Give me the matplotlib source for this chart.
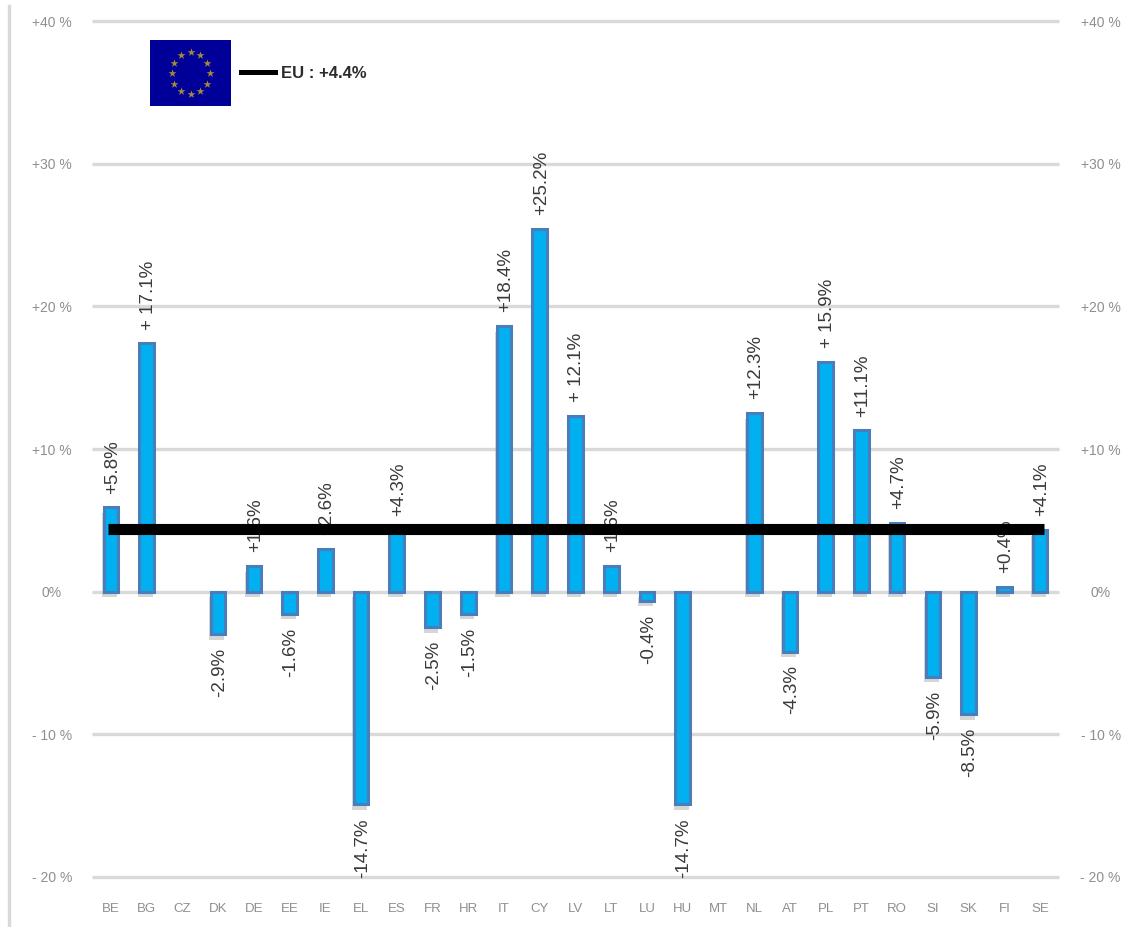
"""
EU member states bar chart, change in percent with EU average line.
"""
import matplotlib
matplotlib.use("Agg")
import numpy as np
from matplotlib import pyplot as plt
from matplotlib import patheffects as pe
from matplotlib.lines import Line2D

nan = float("nan")

countries = ["BE", "BG", "CZ", "DK", "DE", "EE", "IE", "EL", "ES", "FR", "HR", "IT", "CY", "LV",
             "LT", "LU", "HU", "MT", "NL", "AT", "PL", "PT", "RO", "SI", "SK", "FI", "SE"]
# bar heights as measured on the picture
values = [5.9, 17.4, nan, -3.0, 1.8, -1.55, 3.0, -14.9, 4.3, -2.5, -1.55, 18.6, 25.4, 12.3,
          1.8, -0.65, -14.9, nan, 12.5, -4.2, 16.1, 11.3, 4.8, -5.95, -8.6, 0.35, 4.3]
# printed labels, blurred in the source
labels = ["+5.8%", "+ 17.1%", "", "-2.9%", "+1.6%", "-1.6%", "+2.6%", "-14.7%", "+4.3%",
          "-2.5%", "-1.5%", "+18.4%", "+25.2%", "+ 12.1%", "+1.6%", "-0.4%", "-14.7%", "",
          "+12.3%", "-4.3%", "+ 15.9%", "+11.1%", "+4.7%", "-5.9%", "-8.5%", "+0.4%", "+4.1%"]
eu_value = 4.4
eu_label = "EU : +4.4%"
y_ticks = [-20, -10, 0, 10, 20, 30, 40]
y_tick_labels = ["- 20 %", "- 10 %", "0%", "+10 %", "+20 %", "+30 %", "+40 %"]

W, H = 1147, 927
GREY = "#d9d9d9"
TICK = "#8f8f8f"

plt.rcParams["font.family"] = "Liberation Sans"


def px_box(x0, y0, x1, y1):
    # pixel box (top left origin) to figure fraction rectangle
    return [x0 / W, 1 - y1 / H, (x1 - x0) / W, (y1 - y0) / H]


fig = plt.figure(figsize=(W / 100, H / 100), dpi=100)
ax = fig.add_axes(px_box(92, 21, 1059, 877))

x = np.arange(len(countries))
ax.set_xlim(-0.53, len(countries) - 0.47)
ax.set_ylim(-20, 40)
ax.set_axisbelow(True)
ax.grid(axis="y", color=GREY, linewidth=2.4)
ax.set_yticks(y_ticks, y_tick_labels)
ax.set_xticks(x, countries)
for line in ax.get_ygridlines():
    line.set_clip_on(False)
    line.set_solid_capstyle("butt")

bars = ax.bar(x, values, width=0.41, color="#00b0f0", edgecolor="#4a7ebb", linewidth=2.2, zorder=3)
for bar in bars:
    bar.set_path_effects([pe.SimplePatchShadow(offset=(-1, -4), shadow_rgbFace="#999999", alpha=0.4),
                          pe.Normal()])

for xi, val, lab in zip(x, values, labels):
    if not lab:
        continue
    ax.annotate(
        lab,
        (xi, val),
        textcoords="offset points",
        xytext=(1, 10 if val > 0 else -10),
        rotation=90,
        ha="center",
        va="bottom" if val > 0 else "top",
        fontsize=13.5,
        color="#3a3a3a",
        zorder=4,
    )

# EU average runs above bars and labels
ax.plot([x[0] - 0.09, x[-1] + 0.1], [eu_value, eu_value], color="black", linewidth=8,
        solid_capstyle="butt", zorder=5)

for side in ax.spines.values():
    side.set_visible(False)
ax.tick_params(axis="x", length=0, pad=19, labelsize=9.5, labelcolor=TICK)
ax.tick_params(axis="y", length=0, pad=29, labelsize=10, labelcolor=TICK)
for tick in ax.get_yticklabels():
    tick.set_ha("center")

right = ax.twinx()
right.set_ylim(ax.get_ylim())
right.set_yticks(y_ticks, y_tick_labels)
right.tick_params(axis="y", length=0, pad=30, labelsize=10, labelcolor=TICK)
for tick in right.get_yticklabels():
    tick.set_ha("center")
for side in right.spines.values():
    side.set_visible(False)

# left border of the pasted image
fig.add_artist(Line2D([9 / W, 9 / W], [0, 1 - 6 / H], color=GREY, linewidth=2.4))

# flag
flag = fig.add_axes(px_box(150, 40, 231, 106))
flag.set_facecolor("#000099")
flag.set_xlim(-40.5, 40.5)
flag.set_ylim(-33, 33)
flag.set_xticks([])
flag.set_yticks([])
for side in flag.spines.values():
    side.set_visible(False)
angles = np.deg2rad(np.arange(0, 360, 30))
flag.scatter(19 * np.cos(angles), 21 * np.sin(angles), marker="*", s=36, color="#a58a3a", linewidths=0)

# legend key
fig.add_artist(Line2D([241 / W, 275 / W], [1 - 72 / H, 1 - 72 / H], color="black", linewidth=3.6))
fig.text(281 / W, 1 - 73 / H, eu_label, fontsize=12, fontweight="bold",
         color="#2b2b2b", va="center", ha="left")

fig.savefig("out.png", dpi=100)
plt.close(fig)
